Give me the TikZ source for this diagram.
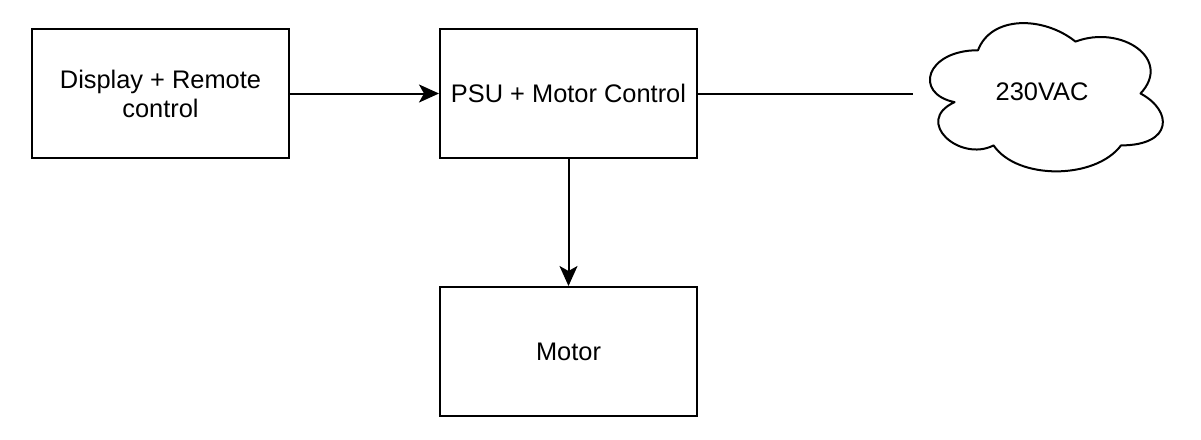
\documentclass[tikz,border=0pt]{standalone}
\usepackage{fontspec}
\setmainfont{Liberation Sans}
\usetikzlibrary{arrows.meta}
\begin{document}
\begin{tikzpicture}[x=1pt,y=-1pt,
  box/.style={draw=black, line width=2pt, minimum width=257pt, minimum height=129pt, inner sep=0pt, align=center, font=\fontsize{25.4}{29}\selectfont},
  conn/.style={line width=2pt, draw=black},
  arr/.style={conn, -{Stealth[length=20pt, width=18pt, inset=5pt]}},
  lbl/.style={font=\fontsize{25.4}{29}\selectfont, align=center}]
\useasboundingbox (0,0) rectangle (1201,439);
\node[box] (disp) at (160.5,93.5) {Display + Remote\\control};
\node[box] (psu) at (568.5,93.5) {PSU + Motor Control};
\node[box] (motor) at (568.5,351.5) {Motor};
% cloud (draw.io shape), geometry x0=913, y0=7, w=260, h=173
\begin{scope}[shift={(913,7)}, x=260pt, y=-173pt]
\draw[line width=2pt, line join=round]
  (0.25,0.25) .. controls (0.05,0.25) and (0,0.5) .. (0.16,0.55)
  .. controls (0,0.66) and (0.18,0.9) .. (0.31,0.8)
  .. controls (0.4,1) and (0.7,1) .. (0.8,0.8)
  .. controls (1,0.8) and (1,0.6) .. (0.875,0.5)
  .. controls (1,0.3) and (0.8,0.1) .. (0.625,0.2)
  .. controls (0.5,0.05) and (0.3,0.05) .. (0.25,0.25) -- cycle;
\coordinate (cloudw) at (0,0.5);
\end{scope}
\node[lbl] (ac) at (1042,92) {230VAC};
\draw[arr] (disp.east) -- (psu.west);
\draw[arr] (psu.south) -- (motor.north);
\draw[conn] (psu.east) -- (cloudw);
\end{tikzpicture}
\end{document}
